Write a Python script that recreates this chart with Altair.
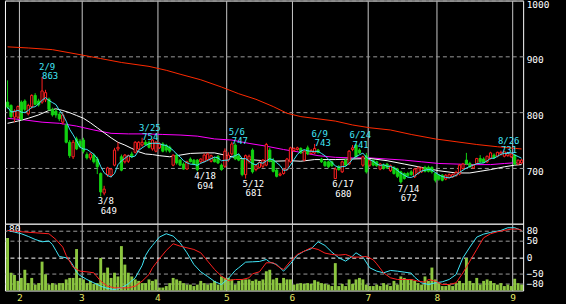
import altair as alt
import pandas as pd

# ---------------- data (trading-day index 0..149) ----------------
opens = [818,812,791,791,818,820,797,810,830,820, 818,822,823,805,802,796,782,777,746,720,
         752,748,750,724,718,723,716,690,655,688, 687,705,734,720,711,712,725,728,734,741,
         746,746,734,730,736,743,740,737,705,723, 714,707,698,716,714,714,711,712,715,712,
         716,721,705,703,714,725,741,722,714,688, 712,732,697,701,703,705,732,714,696,687,
         690,697,711,731,733,735,714,736,726,727, 732,716,711,711,711,681,702,693,714,707,
         733,741,732,705,722,705,713,711,698,705, 707,695,701,698,693,690,690,693,684,690,
         693,701,701,701,690,687,687,680,683,684, 686,689,699,714,708,700,708,717,716,711,
         717,723,721,725,721,722,720,723,707,709]
highs = [857,814,805,812,821,823,815,832,834,824, 863,840,826,808,806,800,798,780,750,750,
         756,752,754,728,728,726,720,692,668,702, 700,736,746,724,725,724,729,748,748,754,
         750,749,752,748,746,746,743,740,724,726, 716,710,713,719,716,716,717,726,727,724,
         720,723,708,735,728,747,744,726,716,724, 724,735,705,712,716,745,736,718,699,692,
         700,718,738,737,738,737,732,740,734,743, 734,718,713,713,713,701,705,713,716,732,
         741,743,735,722,727,716,716,713,709,708, 709,706,703,700,695,692,693,696,700,703,
         701,704,704,703,692,689,689,689,690,690, 695,707,709,727,711,707,718,723,719,722,
         729,726,729,731,730,729,727,725,715,716]
lows = [806,789,782,788,785,801,794,806,812,810, 815,818,802,792,790,784,778,744,718,716,
        732,735,726,715,714,708,689,649,651,684, 683,703,730,694,708,709,718,726,732,738,
        740,735,731,728,734,728,728,727,703,706, 703,697,697,710,705,694,708,710,712,710,
        710,707,695,700,711,722,714,712,685,681, 708,690,694,699,700,703,710,692,683,685,
        688,695,709,729,731,725,712,723,724,725, 726,709,702,700,702,680,695,691,703,705,
        730,718,725,702,690,702,703,702,696,697, 698,693,688,682,672,679,684,686,682,688,
        691,692,692,690,674,677,676,678,681,682, 685,687,697,705,700,699,706,709,709,709,
        715,716,719,722,719,720,718,705,705,707]
closes = [809,792,802,810,787,805,812,830,814,813, 838,835,805,795,795,788,795,746,722,746,
          734,738,730,718,725,711,702,657,662,700, 698,732,737,696,723,722,720,746,746,746,
          742,737,750,746,743,730,732,730,723,709, 705,698,711,711,707,697,716,723,725,722,
          711,709,697,730,723,743,716,714,688,722, 721,693,704,710,714,742,712,694,685,689,
          698,716,736,735,736,727,730,725,731,735, 728,711,704,702,704,698,697,711,705,730,
          736,720,727,720,693,714,705,704,707,699, 700,704,690,685,675,681,686,688,698,700,
          700,694,694,693,678,680,678,687,688,688, 692,705,707,707,702,705,717,711,710,721,
          727,718,728,728,729,727,725,707,714,714]
volumes = [71,24,21,13,17,28,10,17,8,10, 39,22,8,10,8,10,10,15,17,17,
           56,17,15,10,13,9,10,44,24,31, 17,24,19,60,35,24,19,15,13,10,
           10,15,13,15,4,4,6,10,17,15, 13,10,8,8,6,8,13,10,8,10,
           13,8,19,17,17,15,8,13,15,15, 15,13,15,13,15,26,28,15,17,10,
           17,15,15,8,9,10,9,10,9,14, 12,10,9,8,6,37,6,9,6,15,
           9,15,17,15,8,6,6,8,6,10, 8,6,13,8,19,17,15,15,13,10,
           8,19,13,31,15,10,6,6,8,6, 10,13,10,44,13,10,17,8,13,15,
           13,10,8,10,6,8,6,16,10,8]

month_start_idx = [4, 22, 44, 64, 83, 105, 125, 147]
month_labels = ["2", "3", "4", "5", "6", "7", "8", "9"]

# long moving averages (read at sample days)
ma_red_idx = [0, 6, 13, 21, 27, 33, 41, 46, 50, 56, 62, 67, 72, 77, 81, 85, 90, 95, 100, 105, 111, 117, 124, 130, 136, 142, 149]
ma_red_val = [917, 915, 912, 903, 896, 889, 882, 875, 868, 858, 845, 833, 823, 810, 798, 792, 788, 784, 777, 772, 768, 760, 752, 747, 742, 738, 734]
ma_mag_idx = [0, 5, 10, 15, 20, 25, 30, 35, 40, 45, 50, 55, 60, 65, 70, 75, 80, 85, 90, 95, 100, 105, 110, 115, 120, 125, 130, 135, 140, 144, 149]
ma_mag_val = [789, 786, 782, 780, 775, 768, 762, 761, 761, 760, 759, 757, 752, 750, 744, 739, 733, 728, 722, 719, 718, 718, 716, 714, 711, 708, 707, 706, 706, 708, 710]
ma_wht_idx = [0, 3, 6, 9, 12, 14, 16, 18, 20, 22, 24, 26, 28, 30, 32, 34, 36, 38, 40, 42, 44, 47, 50, 53, 57, 60, 63, 67, 72, 77, 82, 85, 89, 95, 100, 105, 110, 115, 120, 125, 130, 134, 137, 140, 144, 147, 149]
ma_wht_val = [780, 784, 789, 795, 803, 806, 803, 799, 794, 789, 781, 772, 763, 754, 746, 741, 735, 729, 725, 724, 722, 720, 723, 726, 727, 727, 723, 717, 714, 712, 713, 712, 715, 715, 716, 717, 713, 707, 701, 695, 691, 691, 694, 697, 702, 705, 706]

# oscillators (lower panel)
osc_c_idx = [0, 2, 4, 6, 8, 10, 12, 13, 14, 15, 16, 17, 18, 19, 20, 21, 23, 25, 27, 29, 31, 33, 35, 37, 39, 40, 41, 42, 44, 46, 48, 50, 52, 54, 56, 58, 60, 62, 64, 66, 67, 69, 71, 73, 75, 76, 78, 80, 82, 84, 86, 88, 90, 92, 94, 96, 98, 100, 101, 103, 105, 107, 109, 111, 113, 115, 117, 118, 120, 122, 124, 126, 128, 130, 132, 134, 136, 138, 140, 142, 143, 145, 147, 149]
osc_c_val = [80, 75, 70, 62, 53, 46, 48, 38, 20, 2, 0, -2, -10, -25, -45, -55, -67, -77, -87, -94, -97, -92, -80, -62, -25, 5, 22, 35, 60, 70, 63, 43, 13, -22, -44, -58, -73, -82, -64, -40, -32, -15, -14, -13, -7, -15, -22, -42, -20, 6, 18, 25, 46, 35, 15, -2, -12, 3, 13, 0, -32, -42, -47, -40, -42, -45, -48, -60, -77, -82, -77, -74, -67, -52, -2, 30, 60, 69, 74, 78, 80, 88, 88, 80]
osc_r_idx = [0, 4, 8, 12, 14, 16, 17, 19, 21, 23, 25, 27, 29, 31, 33, 35, 37, 39, 41, 42, 44, 46, 48, 50, 52, 54, 56, 58, 60, 62, 64, 66, 68, 70, 71, 73, 75, 77, 79, 80, 82, 84, 86, 88, 90, 92, 94, 96, 98, 100, 102, 104, 106, 107, 109, 111, 113, 115, 117, 119, 121, 122, 124, 126, 128, 130, 132, 134, 136, 138, 140, 142, 144, 146, 148, 149]
osc_r_val = [80, 76, 73, 70, 53, 30, 5, -30, -42, -44, -47, -72, -87, -92, -92, -92, -87, -72, -52, -32, -5, 20, 40, 33, 28, 23, 13, -12, -37, -57, -70, -67, -67, -62, -50, -44, -17, -17, -32, -37, -12, 8, 18, 28, 23, 12, 8, 6, 8, 0, 0, 2, -8, -20, -47, -62, -67, -67, -67, -72, -75, -67, -72, -82, -82, -77, -47, -12, 23, 58, 70, 76, 80, 84, 84, 80]

# high / low annotations
ann_idx = [10, 27, 39, 55, 65, 69, 89, 95, 100, 114, 143]
ann_date = ["2/9", "3/8", "3/25", "4/18", "5/6", "5/12", "6/9", "6/17", "6/24", "7/14", "8/26"]
ann_value = [863, 649, 754, 694, 747, 681, 743, 680, 741, 672, 731]
ann_kind = ["high", "low", "high", "low", "high", "low", "high", "low", "high", "low", "high"]

price_ticks = [700, 800, 900, 1000]
osc_ticks = [-80, -50, 0, 50, 80]
vol_label_value = [80]

# ---------------- styling ----------------
FONT = "DejaVu Sans Mono"
FS = 9.5
FA = 9
C_UP = "#FF2020"
C_DN = "#12D212"
C_MA_RED = "#FF2A00"
C_MAG = "#FF00FF"
C_CYAN = "#40E6F8"
C_VOL = "#8CC63F"
C_GRID = "#9A9A9A"
C_MONTH = "#C8C8C8"
C_YEL = "#E8E868"

candles = pd.DataFrame({"idx": list(range(len(opens))), "open": opens, "high": highs,
                        "low": lows, "close": closes, "volume": volumes})
ma_red = pd.DataFrame({"idx": ma_red_idx, "val": ma_red_val})
ma_mag = pd.DataFrame({"idx": ma_mag_idx, "val": ma_mag_val})
ma_wht = pd.DataFrame({"idx": ma_wht_idx, "val": ma_wht_val})
osc_c = pd.DataFrame({"idx": osc_c_idx, "val": osc_c_val})
osc_r = pd.DataFrame({"idx": osc_r_idx, "val": osc_r_val})
ann = pd.DataFrame({"idx": ann_idx, "date": ann_date, "value": ann_value, "kind": ann_kind})
vol_lab = pd.DataFrame({"v": vol_label_value})

month_lines = [m - 0.6 for m in month_start_idx]
pos_list = ",".join(repr(p) for p in month_lines)
lbl_list = ",".join("'" + s + "'" for s in month_labels)
month_expr = f"[{lbl_list}][indexof([{pos_list}], datum.value)]"

xs = alt.Scale(domain=[-0.75, 149.45], nice=False, zero=False)
x_axis_top = alt.Axis(values=month_lines, grid=True, gridColor=C_MONTH, gridOpacity=1,
                      labels=False, ticks=False, domain=False, title=None)
x_axis_bot = alt.Axis(values=month_lines, grid=True, gridColor=C_MONTH, gridOpacity=1,
                      ticks=False, domain=False, title=None, labelColor=C_YEL,
                      labelFont=FONT, labelFontSize=FS, labelPadding=2,
                      labelExpr=month_expr)

ys = alt.Scale(domain=[600, 1000], nice=False, zero=False)
y_axis = alt.Axis(orient="right", values=price_ticks, grid=True, gridColor=C_GRID,
                  gridDash=[4, 3], gridOpacity=1, ticks=False, domain=False, title=None,
                  format="d", labelColor="white", labelFont=FONT, labelFontSize=FS,
                  labelPadding=3, labelBaseline="top", labelOffset=-1.5)

up = "datum.close > datum.open"
base = alt.Chart(candles)

def xq(field):
    return alt.X(field, type="quantitative", scale=xs, axis=x_axis_top)

def yq(field):
    return alt.Y(field, type="quantitative", scale=ys, axis=y_axis)

line_red = alt.Chart(ma_red).mark_line(color=C_MA_RED, strokeWidth=1).encode(x=xq("idx"), y=yq("val"))
line_mag = alt.Chart(ma_mag).mark_line(color=C_MAG, strokeWidth=1).encode(x=xq("idx"), y=yq("val"))
line_wht = alt.Chart(ma_wht).mark_line(color="white", strokeWidth=1).encode(x=xq("idx"), y=yq("val"))

wicks = base.mark_rule(strokeWidth=1).encode(
    x=xq("idx"), y=yq("low"), y2="high:Q",
    color=alt.condition(up, alt.value(C_UP), alt.value(C_DN)))

bodies = base.transform_calculate(x1="datum.idx - 0.32", x2="datum.idx + 0.32").mark_rect(
    strokeWidth=1).encode(
    x=xq("x1"), x2="x2:Q", y=yq("open"), y2="close:Q",
    fill=alt.condition(up, alt.value("black"), alt.value(C_DN)),
    stroke=alt.condition(up, alt.value(C_UP), alt.value(C_DN)))

ma_short = base.transform_window(ma5="mean(close)", frame=[-4, 0],
                                 sort=[alt.SortField("idx")]).mark_line(
    color=C_CYAN, strokeWidth=1).encode(x=xq("idx"), y=yq("ma5"))

def ann_text(kind, field, color, dx, dy):
    t = alt.Text(field, type="quantitative", format="d") if field == "value" else alt.Text(field, type="nominal")
    return alt.Chart(ann).transform_filter(f"datum.kind == '{kind}'").mark_text(
        align="left", baseline="alphabetic", dx=dx, dy=dy, font=FONT, fontSize=FA,
        color=color).encode(x=xq("idx"), y=yq("value"), text=t)

top = alt.layer(
    line_red, line_mag, line_wht, wicks, bodies, ma_short,
    ann_text("high", "date", C_CYAN, -3, -7), ann_text("high", "value", C_CYAN, 0, 2.5),
    ann_text("low", "date", "white", -3, 8), ann_text("low", "value", "white", 0, 17.5),
).properties(width=520, height=224)

# ---------------- lower panel ----------------
vs = alt.Scale(domain=[0, 90.2], nice=False, zero=True)
os_ = alt.Scale(domain=[-100, 100], nice=False, zero=False)
osc_axis = alt.Axis(orient="right", values=osc_ticks, grid=True,
                    gridColor=alt.condition("datum.value == 0", alt.value("white"), alt.value(C_GRID)),
                    gridDash=[4, 3], gridOpacity=1, ticks=False, domain=False, title=None,
                    labelColor="white", labelFont=FONT, labelFontSize=FS, labelPadding=3)

def xb(field):
    return alt.X(field, type="quantitative", scale=xs, axis=x_axis_bot)

vol_bars = base.transform_calculate(x1="datum.idx - 0.42", x2="datum.idx + 0.42").mark_rect(
    color=C_VOL).encode(x=xb("x1"), x2="x2:Q",
                        y=alt.Y("volume:Q", scale=vs, axis=None), y2=alt.datum(0))
vol_text = alt.Chart(vol_lab).mark_text(align="left", baseline="middle", dy=-2.5,
                                        font=FONT, fontSize=FS, color="white").encode(
    x=alt.value(4), y=alt.Y("v:Q", scale=vs, axis=None), text=alt.Text("v:Q"))
vol_layer = alt.layer(vol_bars, vol_text)

osc_cyan = alt.Chart(osc_c).mark_line(color=C_CYAN, strokeWidth=1).encode(
    x=xb("idx"), y=alt.Y("val:Q", scale=os_, axis=osc_axis))
osc_red = alt.Chart(osc_r).mark_line(color="#FF2020", strokeWidth=1).encode(
    x=xb("idx"), y=alt.Y("val:Q", scale=os_, axis=osc_axis))
osc_layer = alt.layer(osc_cyan, osc_red)

bottom = alt.layer(vol_layer, osc_layer).resolve_scale(y="independent").properties(
    width=520, height=67)

chart = alt.vconcat(top, bottom, spacing=0, bounds="flush").configure(
    background="black",
    padding={"left": 4, "top": -2, "right": 16, "bottom": 1},
).configure_view(stroke="white", strokeWidth=1, fill="black")

chart.save("out.html", embed_options={"renderer": "svg", "actions": False})
